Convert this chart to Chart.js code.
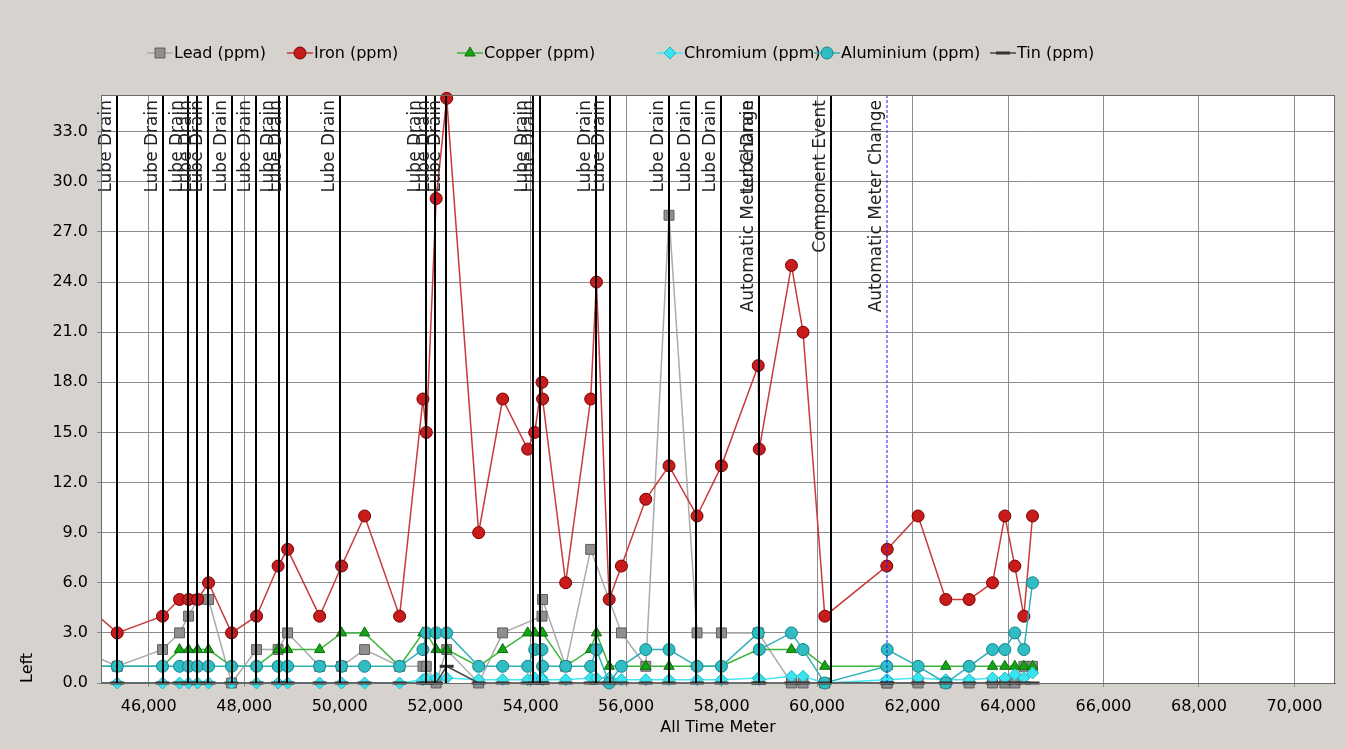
<!DOCTYPE html>
<html lang="en">
<head>
<meta charset="UTF-8" />
<title>Oil Analysis - All Time Meter</title>
<script src="https://cdn.jsdelivr.net/npm/chart.js"></script>
<style>
  html, body { margin: 0; padding: 0; background: #d6d3ce; }
  #wrap { width: 1346px; height: 749px; }
</style>
</head>
<body>
<div id="wrap"><canvas id="oilChart" width="1346" height="749"></canvas></div>
<script>
  // sample readings (all time meter) and element values per sample
  var meters = [44550, 45340, 46289, 46645, 46834, 47023, 47253, 47735, 48259, 48710,
                48909, 49580, 50040, 50522, 51255, 51744, 51815, 52021, 52241, 52911,
                53414, 53938, 54085, 54238, 54250, 54734, 55258, 55378, 55646, 55902,
                56412, 56899, 57486, 57997, 58768, 58790, 59464, 59707, 60162, 61461,
                61470, 62117, 62697, 63186, 63676, 63934, 64143, 64332, 64514];
  var lead = [2, 1, 2, 3, 4, 5, 5, 0, 2, 2,
              3, 1, 1, 2, 1, 1, 1, 0, 2, 0,
              3, null, null, 4, 5, 1, 8, null, null, 3,
              1, 28, 3, 3, 3, null, 0, 0, 0, 0,
              0, 0, 0, 0, 0, 0, 0, 1, 1];
  var iron = [5, 3, 4, 5, 5, 5, 6, 3, 4, 7,
              8, 4, 7, 10, 4, 17, 15, 29, 35, 9,
              17, 14, 15, 18, 17, 6, 17, 24, 5, 7,
              11, 13, 10, 13, 19, 14, 25, 21, 4, 7,
              8, 10, 5, 5, 6, 10, 7, 4, 10];
  var copper = [1, 1, 1, 2, 2, 2, 2, 1, 1, 2,
                2, 2, 3, 3, 1, 3, 3, 2, 2, 1,
                2, 3, 3, 3, 3, 1, 2, 3, 1, 1,
                1, 1, 1, 1, 2, 2, 2, 2, 1, 1,
                1, 1, 1, 1, 1, 1, 1, 1, 1];
  var chromium = [0, 0, 0, 0, 0, 0, 0, 0, 0, 0,
                  0, 0, 0, 0, 0, 0.2, 0.3, 0.3, 0.3, 0.2,
                  0.2, 0.2, 0.3, 0.3, 0.2, 0.2, 0.3, 0.3, 0.3, 0.2,
                  0.2, 0.2, 0.2, 0.2, 0.3, 0.2, 0.4, 0.4, 0, 0.2,
                  0.2, 0.3, 0.2, 0.2, 0.3, 0.3, 0.5, 0.3, 0.6];
  var aluminium = [1, 1, 1, 1, 1, 1, 1, 1, 1, 1,
                   1, 1, 1, 1, 1, 2, 3, 3, 3, 1,
                   1, 1, 2, 2, 1, 1, 1, 2, 0, 1,
                   2, 2, 1, 1, 3, 2, 3, 2, 0, 1,
                   2, 1, 0, 1, 2, 2, 3, 2, 6];
  var tin = [0, 0, 0, 0, 0, 0, 0, 0, 0, 0,
             0, 0, 0, 0, 0, 0, 0, 0, 1, 0,
             0, 0, 0, 0, 0, 0, 0, 0, 0, 0,
             0, 0, 0, 0, 0, 0, 0, 0, 0, 0,
             0, 0, 0, 0, 0, 0, 0, 0, 0];

  // maintenance events
  var eventMeters = [45340, 46289, 46819, 47008, 47238, 47750, 48253, 48720, 48902, 50000,
                     51815, 51999, 52234, 54043, 54190, 55378, 55657, 56893, 57473, 57997,
                     58775, 58790, 60302, 61455];
  var eventLabels = ['Lube Drain', 'Lube Drain', 'Lube Drain', 'Lube Drain', 'Lube Drain',
                     'Lube Drain', 'Lube Drain', 'Lube Drain', 'Lube Drain', 'Lube Drain',
                     'Lube Drain', 'Lube Drain', 'Lube Drain', 'Lube Drain', 'Lube Drain',
                     'Lube Drain', 'Lube Drain', 'Lube Drain', 'Lube Drain', 'Lube Drain',
                     'Automatic Meter Change', 'Lube Drain', 'Component Event', 'Automatic Meter Change'];

  var xTicks = [46000, 48000, 50000, 52000, 54000, 56000, 58000, 60000, 62000, 64000, 66000, 68000, 70000];
  var yTicks = [0, 3, 6, 9, 12, 15, 18, 21, 24, 27, 30, 33];

  var FONT = "'DejaVu Sans', sans-serif";
  Chart.defaults.font.family = FONT;
  Chart.defaults.font.size = 16;
  Chart.defaults.color = '#000';

  function serie(valores) {
    var pts = [];
    for (var i = 0; i < meters.length; i++) {
      pts.push({ x: meters[i], y: valores[i] });
    }
    return pts;
  }

  var clipArea = { left: 0, top: 10, right: 10, bottom: 10 };

  var datasets = [
    { label: 'Lead (ppm)', data: serie(lead), borderColor: '#ababab', backgroundColor: '#8f8f8f',
      pointBorderColor: '#5e5e5e', pointStyle: 'rect', pointRadius: 7, order: 5 },
    { label: 'Iron (ppm)', data: serie(iron), borderColor: '#c93a3a', backgroundColor: '#c81c1c',
      pointBorderColor: '#7a0000', pointStyle: 'circle', pointRadius: 6, order: 4 },
    { label: 'Copper (ppm)', data: serie(copper), borderColor: '#3cb43c', backgroundColor: '#16a416',
      pointBorderColor: '#0a700a', pointStyle: 'triangle', pointRadius: 6, order: 3 },
    { label: 'Chromium (ppm)', data: serie(chromium), borderColor: '#45e6f0', backgroundColor: '#3ae4ee',
      pointBorderColor: '#1bb8c8', pointStyle: 'rectRot', pointRadius: 6, order: 2 },
    { label: 'Aluminium (ppm)', data: serie(aluminium), borderColor: '#2fb0b6', backgroundColor: '#2fbcc2',
      pointBorderColor: '#16858c', pointStyle: 'circle', pointRadius: 6, order: 1 },
    { label: 'Tin (ppm)', data: serie(tin), borderColor: '#444444', backgroundColor: '#3a3a3a',
      pointBorderColor: '#333333', pointStyle: 'line', pointRadius: 7, pointBorderWidth: 3, order: 0 }
  ];
  datasets.forEach(function (d) {
    d.borderWidth = 1.5;
    d.tension = 0;
    d.spanGaps = true;
    d.clip = clipArea;
    d.pointBackgroundColor = d.backgroundColor;
    if (!d.pointBorderWidth) d.pointBorderWidth = 1;
  });

  // fundo cinza e área branca
  var fundoPlugin = {
    id: 'fundo',
    beforeDraw: function (chart) {
      var ctx = chart.ctx, a = chart.chartArea;
      ctx.save();
      ctx.fillStyle = '#d6d3ce';
      ctx.fillRect(0, 0, chart.width, chart.height);
      ctx.fillStyle = '#ffffff';
      ctx.fillRect(a.left, a.top, a.right - a.left, a.bottom - a.top);
      ctx.restore();
    }
  };

  // event lines with rotated labels
  var dashedEventMeter = 61455;
  var eventosPlugin = {
    id: 'eventos',
    afterDatasetsDraw: function (chart) {
      var ctx = chart.ctx, a = chart.chartArea, xs = chart.scales.x;
      ctx.save();
      for (var i = 0; i < eventMeters.length; i++) {
        var px = Math.round(xs.getPixelForValue(eventMeters[i]));
        ctx.beginPath();
        if (eventMeters[i] === dashedEventMeter) {
          ctx.strokeStyle = '#1a1aff';
          ctx.lineWidth = 1;
          ctx.setLineDash([3, 2]);
        } else {
          ctx.strokeStyle = '#000000';
          ctx.lineWidth = 2;
          ctx.setLineDash([]);
        }
        ctx.moveTo(px, a.top);
        ctx.lineTo(px, a.bottom);
        ctx.stroke();

        ctx.save();
        ctx.translate(px - 2, a.top + 5);
        ctx.rotate(-Math.PI / 2);
        ctx.font = '17px ' + FONT;
        ctx.fillStyle = '#222';
        ctx.textAlign = 'right';
        ctx.textBaseline = 'bottom';
        ctx.fillText(eventLabels[i], 0, 0);
        ctx.restore();
      }
      ctx.setLineDash([]);
      ctx.strokeStyle = '#6a6a6a';
      ctx.lineWidth = 1;
      ctx.strokeRect(a.left + 0.5, a.top + 0.5, a.right - a.left - 1, a.bottom - a.top);
      ctx.restore();
    }
  };

  // legenda desenhada à mão (linha + marcador)
  var legendaX = [160, 300, 470, 670, 827, 1003];
  var legendaPlugin = {
    id: 'legenda',
    afterDraw: function (chart) {
      var ctx = chart.ctx, y = 53;
      ctx.save();
      chart.data.datasets.forEach(function (d, i) {
        var mx = legendaX[i];
        ctx.strokeStyle = d.borderColor;
        ctx.lineWidth = 1.5;
        ctx.beginPath();
        ctx.moveTo(mx - 13, y);
        ctx.lineTo(mx + 13, y);
        ctx.stroke();
        ctx.fillStyle = d.pointBackgroundColor;
        ctx.strokeStyle = d.pointBorderColor;
        ctx.lineWidth = d.pointBorderWidth;
        Chart.helpers.drawPoint(ctx, { pointStyle: d.pointStyle, radius: d.pointRadius, borderWidth: d.pointBorderWidth, rotation: 0 }, mx, y);
        ctx.fillStyle = '#000';
        ctx.font = '16px ' + FONT;
        ctx.textAlign = 'left';
        ctx.textBaseline = 'middle';
        ctx.fillText(d.label, mx + 14, y + 1);
      });
      ctx.restore();
    }
  };

  new Chart(document.getElementById('oilChart').getContext('2d'), {
    type: 'line',
    data: { datasets: datasets },
    plugins: [fundoPlugin, eventosPlugin, legendaPlugin],
    options: {
      responsive: false,
      animation: false,
      layout: { padding: { top: 95, right: 11, left: 0, bottom: 0 } },
      plugins: {
        legend: { display: false },
        tooltip: { enabled: false }
      },
      scales: {
        x: {
          type: 'linear',
          min: 45000,
          max: 70850,
          afterBuildTicks: function (s) {
            s.ticks = xTicks.map(function (v) { return { value: v }; });
          },
          afterFit: function (s) { s.height = 66; },
          ticks: {
            padding: 10,
            maxRotation: 0,
            autoSkip: false,
            callback: function (v) { return v.toLocaleString('en-US'); }
          },
          grid: { color: '#8c8c8c', lineWidth: 1, tickLength: 4, tickColor: '#8c8c8c' },
          border: { display: true, color: '#6a6a6a' },
          title: { display: true, text: 'All Time Meter', font: { size: 16 }, padding: { top: 0, bottom: 12 } }
        },
        y: {
          min: 0,
          max: 35.2,
          afterBuildTicks: function (s) {
            s.ticks = yTicks.map(function (v) { return { value: v }; });
          },
          afterFit: function (s) { s.width = 101; },
          ticks: {
            padding: 9,
            callback: function (v) { return v.toFixed(1); }
          },
          grid: { color: '#8c8c8c', lineWidth: 1, tickLength: 4, tickColor: '#8c8c8c' },
          border: { display: true, color: '#6a6a6a' },
          title: { display: true, text: 'Left', align: 'start', font: { size: 16 }, padding: { top: 18, bottom: 0 } }
        }
      }
    }
  });
</script>
</body>
</html>
